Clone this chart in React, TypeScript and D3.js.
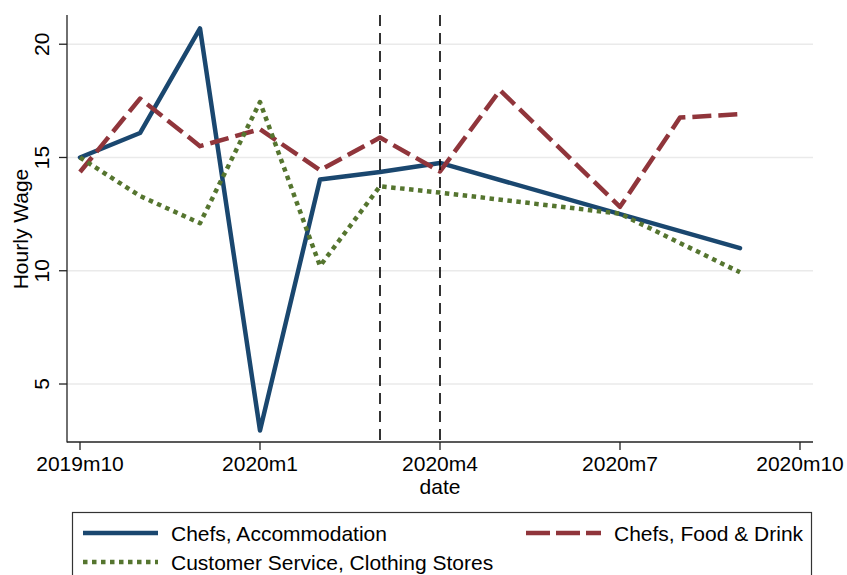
import * as d3 from "d3";
import React, { useEffect, useRef } from "react";

// months are indexed from 2019m10 (0) to 2020m10 (12)
const tickMonths = [0, 3, 6, 9, 12];
const tickLabels = ["2019m10", "2020m1", "2020m4", "2020m7", "2020m10"];
const yTicks = [5, 10, 15, 20];
const refLines = [5, 6]; // 2020m3, 2020m4

// values per month, null = missing (Stata connects across gaps)
const accommodation = [15.0, 16.08, 20.7, 2.95, 14.03, 14.36, 14.76, null, null, null, null, 11.0];
const foodDrink = [14.36, 17.6, 15.5, 16.25, 14.44, 15.88, 14.38, 17.97, null, 12.82, 16.76, 16.91];
const clothing = [15.0, 13.3, 12.1, 17.45, 10.21, 13.73, 13.45, null, null, 12.52, null, 9.93];

const seriesNames = ["Chefs, Accommodation", "Chefs, Food & Drink", "Customer Service, Clothing Stores"];
const seriesColors = ["#1a476f", "#90353b", "#55752f"];
const seriesDash = ["none", "19,7", "4.5,4.5"];

export default function App() {
    const svgRef = useRef<SVGSVGElement | null>(null);

    useEffect(() => {
        if (!svgRef.current) return;
        const svg = d3.select(svgRef.current);
        svg.selectAll("*").remove();

        const font = "'Liberation Sans', Arial, Helvetica, sans-serif";
        const left = 67, right = 813, top = 15, bottom = 442;

        const x = d3.scaleLinear().domain([-0.2167, 12.2167]).range([left, right]);
        const y = d3.scaleLinear().domain([2.44, 21.29]).range([bottom, top]);

        // gridlines
        svg.append("g")
            .selectAll("line")
            .data(yTicks)
            .enter()
            .append("line")
            .attr("x1", left)
            .attr("x2", right)
            .attr("y1", (d) => y(d))
            .attr("y2", (d) => y(d))
            .attr("stroke", "#eaeaea")
            .attr("stroke-width", 1.5);

        // series
        const allSeries = [accommodation, foodDrink, clothing];
        const line = d3.line<{ m: number; v: number }>()
            .x((d) => x(d.m))
            .y((d) => y(d.v));

        allSeries.forEach((vals, i) => {
            const pts = vals
                .map((v, m) => ({ m, v: v as number }))
                .filter((p) => vals[p.m] !== null);
            svg.append("path")
                .datum(pts)
                .attr("d", line)
                .attr("fill", "none")
                .attr("stroke", seriesColors[i])
                .attr("stroke-width", 4.5)
                .attr("stroke-linejoin", "round")
                .attr("stroke-linecap", i === 0 ? "round" : "butt")
                .attr("stroke-dasharray", seriesDash[i]);
        });

        // vertical reference lines
        svg.append("g")
            .selectAll("line")
            .data(refLines)
            .enter()
            .append("line")
            .attr("x1", (d) => x(d))
            .attr("x2", (d) => x(d))
            .attr("y1", top)
            .attr("y2", bottom)
            .attr("stroke", "#000")
            .attr("stroke-width", 1.6)
            .attr("stroke-dasharray", "11,7");

        // axes
        const axisG = svg.append("g").attr("stroke", "#222").attr("stroke-width", 1.3);
        axisG.append("line").attr("x1", left).attr("x2", left).attr("y1", top).attr("y2", bottom + 0.5);
        axisG.append("line").attr("x1", left).attr("x2", right).attr("y1", bottom).attr("y2", bottom);
        axisG.selectAll(".yt")
            .data(yTicks)
            .enter()
            .append("line")
            .attr("x1", left - 8)
            .attr("x2", left)
            .attr("y1", (d) => y(d))
            .attr("y2", (d) => y(d));
        axisG.selectAll(".xt")
            .data(tickMonths)
            .enter()
            .append("line")
            .attr("x1", (d) => x(d))
            .attr("x2", (d) => x(d))
            .attr("y1", bottom)
            .attr("y2", bottom + 8);

        // y tick labels (rotated)
        svg.append("g")
            .selectAll("text")
            .data(yTicks)
            .enter()
            .append("text")
            .attr("transform", (d) => `translate(48.5,${y(d)}) rotate(-90)`)
            .attr("text-anchor", "middle")
            .style("font-family", font)
            .style("font-size", "21px")
            .text((d) => d);

        // x tick labels
        svg.append("g")
            .selectAll("text")
            .data(tickMonths)
            .enter()
            .append("text")
            .attr("x", (d) => x(d))
            .attr("y", 471)
            .attr("text-anchor", "middle")
            .style("font-family", font)
            .style("font-size", "21px")
            .text((d, i) => tickLabels[i]);

        // axis titles
        svg.append("text")
            .attr("transform", `translate(27.5,229) rotate(-90)`)
            .attr("text-anchor", "middle")
            .style("font-family", font)
            .style("font-size", "21px")
            .text("Hourly Wage");
        svg.append("text")
            .attr("x", (left + right) / 2)
            .attr("y", 494)
            .attr("text-anchor", "middle")
            .style("font-family", font)
            .style("font-size", "21px")
            .text("date");

        // legend
        const lg = svg.append("g");
        lg.append("rect")
            .attr("x", 72.5)
            .attr("y", 512.5)
            .attr("width", 739)
            .attr("height", 80)
            .attr("fill", "white")
            .attr("stroke", "#333")
            .attr("stroke-width", 1.2);
        const legendPos = [
            { x: 83, y: 533 },
            { x: 526, y: 533 },
            { x: 83, y: 562 },
        ];
        seriesNames.forEach((name, i) => {
            const p = legendPos[i];
            lg.append("line")
                .attr("x1", p.x)
                .attr("x2", p.x + 75)
                .attr("y1", p.y)
                .attr("y2", p.y)
                .attr("stroke", seriesColors[i])
                .attr("stroke-width", 4.5)
                .attr("stroke-dasharray", i === 1 ? "24,6" : seriesDash[i]);
            lg.append("text")
                .attr("x", p.x + 88)
                .attr("y", p.y + 7.5)
                .style("font-family", font)
                .style("font-size", "21px")
                .text(name);
        });
    }, []);

    return (
        <svg
            ref={svgRef}
            width={847}
            height={575}
            style={{ position: "absolute", left: 0, top: 0, background: "white" }}
        />
    );
}
